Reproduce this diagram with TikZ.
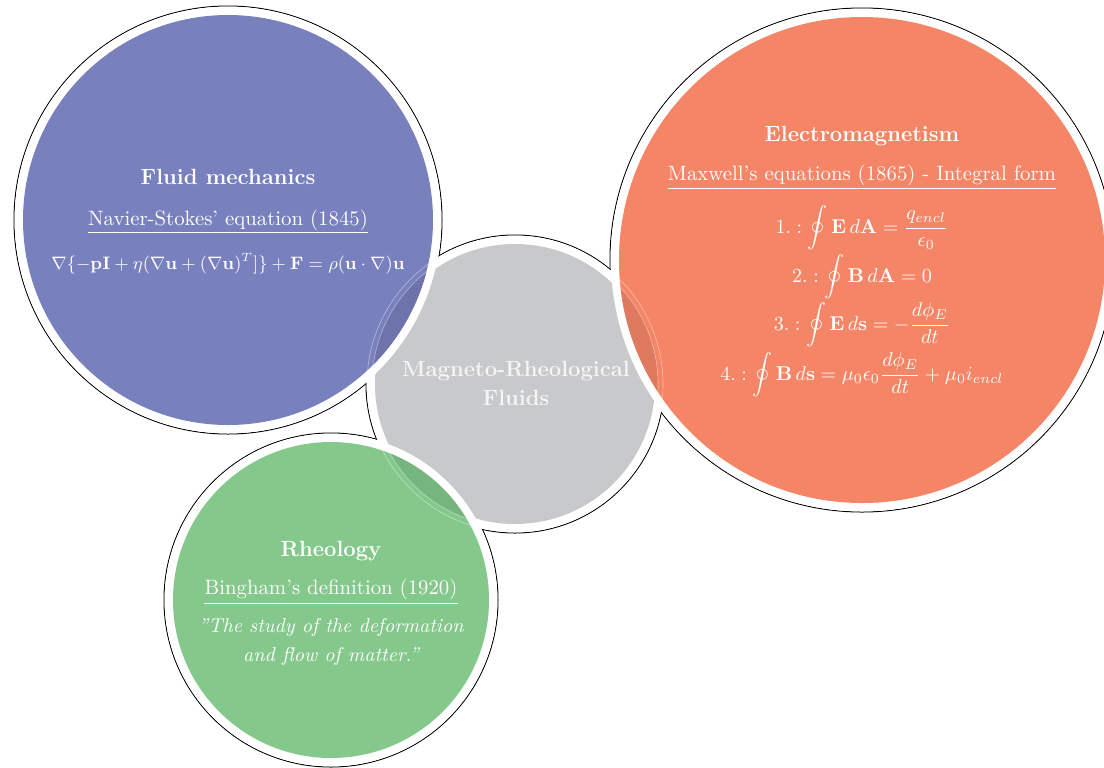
\documentclass[tikz,border=0pt]{standalone}
\usepackage{amsmath}
\definecolor{cblue}{RGB}{121,128,190}
\definecolor{cblued}{RGB}{110,115,170}
\definecolor{corange}{RGB}{244,133,102}
\definecolor{coranged}{RGB}{222,122,94}
\definecolor{cgreen}{RGB}{132,200,140}
\definecolor{cgreend}{RGB}{118,182,126}
\definecolor{cgray}{RGB}{200,201,203}
\begin{document}
\begin{tikzpicture}[x=0.5pt,y=-0.5pt,
  outline/.style={draw=black, line width=0.5pt, fill=white},
  title/.style={text=white, font=\bfseries\fontsize{11}{13}\selectfont, inner sep=0pt, anchor=base},
  sub/.style={text=white, font=\fontsize{10.4}{12}\selectfont, inner sep=0pt, anchor=base},
  body/.style={text=white, font=\fontsize{10}{12}\selectfont, inner sep=0pt, anchor=base},
  uline/.style={draw=white, line width=0.5pt}]
\useasboundingbox (0,0) rectangle (1104,767);
\clip (0,0) rectangle (1104,767);
\coordinate (B) at (228,220);
\coordinate (O) at (862,260);
\coordinate (G) at (515,384);
\coordinate (N) at (331,600);
% union outline
\foreach \c/\r in {B/214,O/252,G/149,N/167} \draw[outline] (\c) circle[radius=\r];
\foreach \c/\r in {B/213.4,O/251.4,G/148.4,N/166.4} \fill[white] (\c) circle[radius=\r];
% centre disc
\fill[cgray] (G) circle[radius=140];
% coloured discs
\foreach \c/\r/\col/\dcol in {B/205/cblue/cblued, O/243/corange/coranged, N/158/cgreen/cgreend} {
  \fill[white] (\c) circle[radius=\r+8];
  \fill[\col] (\c) circle[radius=\r];
  \begin{scope}
    \clip (\c) circle[radius=\r];
    \fill[\dcol] (G) circle[radius=143];
    \draw[white, opacity=0.45, line width=0.3pt] (G) circle[radius=143] (G) circle[radius=148];
  \end{scope}
}
% Fluid mechanics
\node[title] (tB) at (228,184) {Fluid mechanics};
\node[sub] (sB) at (228,225) {Navier-Stokes' equation (1845)};
\draw[uline] ([yshift=-3.5pt]sB.base west) -- ([yshift=-3.5pt]sB.base east);
\node[body, font=\fontsize{9}{11}\selectfont] (eB) at (228,269) {$\nabla\{-\mathbf{pI}+\eta(\nabla\mathbf{u}+(\nabla\mathbf{u})^T]\}+\mathbf{F}=\rho(\mathbf{u}\cdot\nabla)\mathbf{u}$};
% Electromagnetism
\node[title] (tO) at (862,141) {Electromagnetism};
\node[sub] (sO) at (862,180) {Maxwell's equations (1865) - Integral form};
\draw[uline] ([yshift=-4pt]sO.base west) -- ([yshift=-4pt]sO.base east);
\node[body] (e1) at (862,233) {$\displaystyle 1.:\oint \mathbf{E}\,d\mathbf{A}=\frac{q_{encl}}{\epsilon_0}$};
\node[body] (e2) at (862,282) {$\displaystyle 2.:\oint \mathbf{B}\,d\mathbf{A}=0$};
\node[body] (e3) at (862,330) {$\displaystyle 3.:\oint \mathbf{E}\,d\mathbf{s}=-\frac{d\phi_E}{dt}$};
\node[body] (e4) at (862,380) {$\displaystyle 4.:\oint \mathbf{B}\,d\mathbf{s}=\mu_0\epsilon_0\frac{d\phi_E}{dt}+\mu_0 i_{encl}$};
% centre
\node[title, text=white!92!gray] (tG1) at (516,376) {Magneto-Rheological};
\node[title, text=white!92!gray] (tG2) at (516,405) {Fluids};
% Rheology
\node[title] (tN) at (331,556) {Rheology};
\node[sub] (sN) at (331,594) {Bingham's definition (1920)};
\draw[uline] ([yshift=-4.5pt]sN.base west) -- ([yshift=-4.5pt]sN.base east);
\node[body, font=\itshape\fontsize{10}{12}\selectfont] (q1) at (331,632) {''The study of the deformation};
\node[body, font=\itshape\fontsize{10}{12}\selectfont] (q2) at (331,661) {and flow of matter.''};
\end{tikzpicture}
\end{document}
